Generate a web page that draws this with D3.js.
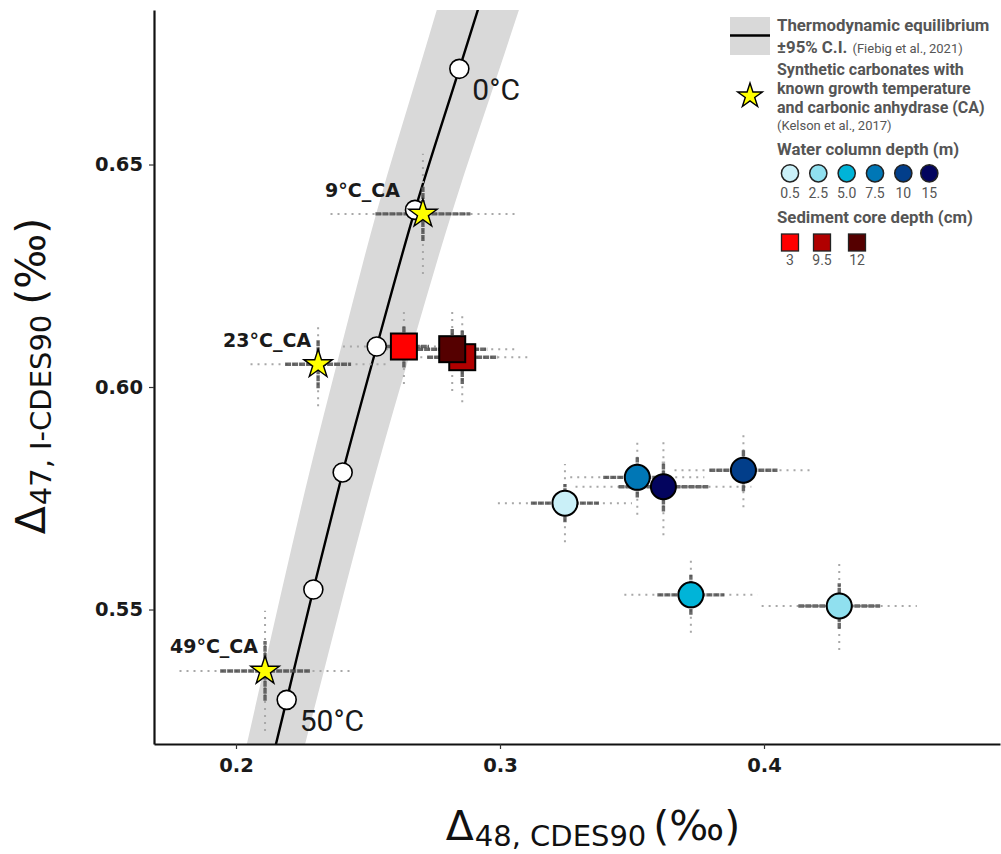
<!DOCTYPE html>
<html>
<head>
<meta charset="utf-8">
<script src="https://cdn.jsdelivr.net/npm/d3@7"></script>
<style>
  html, body { margin: 0; padding: 0; background: #fff; }
  svg { display: block; }
</style>
</head>
<body>
<div id="chart"></div>
<script>
// ---------------- DATA ----------------
// Thermodynamic equilibrium curve (Fiebig et al., 2021)
const eqD47 = [0.515, 0.5297, 0.5545, 0.5808, 0.6091, 0.6398, 0.6715, 0.690];
const eqD48 = [0.2132, 0.2192, 0.2293, 0.2404, 0.2533, 0.2678, 0.2846, 0.2944];
const eqBandHalf = [0.0109, 0.0113, 0.0119, 0.0126, 0.0134, 0.0143, 0.0152, 0.0157];

// temperature markers on the curve
const eqPointTemp = [0, 10, 20, 30, 40, 50];
const eqPointD48 = [0.2846, 0.2678, 0.2533, 0.2404, 0.2293, 0.2192];
const eqPointD47 = [0.6715, 0.6398, 0.6091, 0.5808, 0.5545, 0.5297];
const eqPointLabels = ["0°C", "", "", "", "", "50°C"];

// Synthetic carbonates with CA (Kelson et al., 2017)
const caLabels = ["9°C_CA", "23°C_CA", "49°C_CA"];
const caD48 = [0.2708, 0.2311, 0.2110];
const caD47 = [0.6389, 0.6051, 0.5362];
const caD48SE = [0.0180, 0.0125, 0.0170];
const caD48CI = [0.0350, 0.0256, 0.0324];
const caD47SE = [0.0061, 0.0054, 0.0067];
const caD47CI = [0.0135, 0.0094, 0.0135];

// Water column samples
const waterDepth = ["0.5", "2.5", "5.0", "7.5", "10", "15"];
const waterD48 = [0.3246, 0.4285, 0.3723, 0.3520, 0.3922, 0.3619];
const waterD47 = [0.5739, 0.5508, 0.5533, 0.5797, 0.5813, 0.5776];
const waterD48SE = [0.0129, 0.0155, 0.0127, 0.0129, 0.0129, 0.0170];
const waterD48CI = [0.0254, 0.0294, 0.0252, 0.0254, 0.0261, 0.0333];
const waterD47SE = [0.0043, 0.0051, 0.0045, 0.0045, 0.0047, 0.0056];
const waterD47CI = [0.0088, 0.0099, 0.0085, 0.0084, 0.0083, 0.0109];

// Sediment core samples
const sedDepth = ["3", "9.5", "12"];
const sedD48 = [0.2636, 0.2857, 0.2819];
const sedD47 = [0.6091, 0.6067, 0.6085];
const sedD48SE = [0.0095, 0.0133, 0.0133];
const sedD48CI = [0.0231, 0.0265, 0.0250];
const sedD47SE = [0.0047, 0.0060, 0.0047];
const sedD47CI = [0.0084, 0.0101, 0.0094];

// Axes
const xTicks = [0.2, 0.3, 0.4];
const xTickLabels = ["0.2", "0.3", "0.4"];
const yTicks = [0.55, 0.60, 0.65];
const yTickLabels = ["0.55", "0.60", "0.65"];

// ---------------- STYLE ----------------
const waterColors = ["#caf0f8", "#90e0ef", "#00b4d8", "#0077b6", "#023e8a", "#03045e"];
const sedColors = ["#ff0000", "#b00000", "#550000"];
const caLabelNudge = [[-23, -17], [-7, -17], [-7, -18]];
const legendGrey = "#555555";

const W = 1001, H = 854;
const pLeft = 154, pRight = 1000, pTop = 10, pBottom = 744;

const x = d3.scaleLinear().domain([0.16894, 0.48939]).range([pLeft, pRight]);
const y = d3.scaleLinear().domain([0.51978, 0.68472]).range([pBottom, pTop]);

const svg = d3.select("#chart").append("svg")
  .attr("width", W).attr("height", H)
  .attr("viewBox", `0 0 ${W} ${H}`);
svg.append("rect").attr("width", W).attr("height", H).attr("fill", "#ffffff");

svg.append("defs").append("clipPath").attr("id", "plotclip")
  .append("rect").attr("x", pLeft).attr("y", pTop)
  .attr("width", pRight - pLeft).attr("height", pBottom - pTop);

const plot = svg.append("g").attr("clip-path", "url(#plotclip)");

// ---- equilibrium band & line ----
const eqData = eqD47.map((v, i) => ({ d47: v, d48: eqD48[i], h: eqBandHalf[i] }));
const band = d3.area()
  .y(d => y(d.d47))
  .x0(d => x(d.d48 - d.h))
  .x1(d => x(d.d48 + d.h))
  .curve(d3.curveMonotoneY);
plot.append("path").datum(eqData).attr("d", band)
  .attr("fill", "#d9d9d9").attr("stroke", "none");

const line = d3.line()
  .y(d => y(d.d47))
  .x(d => x(d.d48))
  .curve(d3.curveMonotoneY);
plot.append("path").datum(eqData).attr("d", line)
  .attr("fill", "none").attr("stroke", "#000").attr("stroke-width", 2.4);

// ---- error bars ----
function errorBars(g, xs, ys, xse, xci, yse, yci) {
  xs.forEach((xv, i) => {
    const yv = ys[i];
    g.append("line").attr("x1", x(xv - xci[i])).attr("x2", x(xv + xci[i]))
      .attr("y1", y(yv)).attr("y2", y(yv))
      .attr("stroke", "#a8a8a8").attr("stroke-width", 2).attr("stroke-dasharray", "2,5");
    g.append("line").attr("x1", x(xv)).attr("x2", x(xv))
      .attr("y1", y(yv - yci[i])).attr("y2", y(yv + yci[i]))
      .attr("stroke", "#a8a8a8").attr("stroke-width", 2).attr("stroke-dasharray", "2,5");
  });
  xs.forEach((xv, i) => {
    const yv = ys[i];
    g.append("line").attr("x1", x(xv - xse[i])).attr("x2", x(xv + xse[i]))
      .attr("y1", y(yv)).attr("y2", y(yv))
      .attr("stroke", "#444").attr("stroke-opacity", 0.8).attr("stroke-width", 3.4)
      .attr("stroke-dasharray", "6,1");
    g.append("line").attr("x1", x(xv)).attr("x2", x(xv))
      .attr("y1", y(yv - yse[i])).attr("y2", y(yv + yse[i]))
      .attr("stroke", "#444").attr("stroke-opacity", 0.8).attr("stroke-width", 3.4)
      .attr("stroke-dasharray", "6,1");
  });
}
const eb = plot.append("g");
errorBars(eb, caD48, caD47, caD48SE, caD48CI, caD47SE, caD47CI);
errorBars(eb, waterD48, waterD47, waterD48SE, waterD48CI, waterD47SE, waterD47CI);
errorBars(eb, sedD48, sedD47, sedD48SE, sedD48CI, sedD47SE, sedD47CI);

// ---- equilibrium temperature points ----
plot.append("g").selectAll("circle").data(eqPointTemp).join("circle")
  .attr("cx", (d, i) => x(eqPointD48[i]))
  .attr("cy", (d, i) => y(eqPointD47[i]))
  .attr("r", 9.5)
  .attr("fill", "#fff").attr("stroke", "#000").attr("stroke-width", 1.6);

// ---- sediment squares ----
const sq = 26;
plot.append("g").selectAll("rect").data(sedDepth).join("rect")
  .attr("x", (d, i) => x(sedD48[i]) - sq / 2)
  .attr("y", (d, i) => y(sedD47[i]) - sq / 2)
  .attr("width", sq).attr("height", sq)
  .attr("fill", (d, i) => sedColors[i])
  .attr("stroke", "#000").attr("stroke-width", 2);

// ---- water circles ----
plot.append("g").selectAll("circle").data(waterDepth).join("circle")
  .attr("cx", (d, i) => x(waterD48[i]))
  .attr("cy", (d, i) => y(waterD47[i]))
  .attr("r", 12.5)
  .attr("fill", (d, i) => waterColors[i])
  .attr("stroke", "#000").attr("stroke-width", 2);

// ---- stars ----
const starPath = d3.symbol().type(d3.symbolStar).size(15 * 15 / 0.8908130915292852);
plot.append("g").selectAll("path").data(caLabels).join("path")
  .attr("d", starPath)
  .attr("transform", (d, i) => `translate(${x(caD48[i])},${y(caD47[i])})`)
  .attr("fill", "#ffff00").attr("stroke", "#000").attr("stroke-width", 1.4)
  .attr("stroke-linejoin", "miter");

// ---- labels ----
svg.append("g").selectAll("text").data(caLabels).join("text")
  .attr("x", (d, i) => x(caD48[i]) + caLabelNudge[i][0])
  .attr("y", (d, i) => y(caD47[i]) + caLabelNudge[i][1])
  .attr("text-anchor", "end")
  .attr("font-family", "DejaVu Sans").attr("font-weight", "bold")
  .attr("font-size", 19).attr("fill", "#1a1a1a")
  .text(d => d);

svg.append("g").selectAll("text").data(eqPointLabels).join("text")
  .attr("x", (d, i) => x(eqPointD48[i]) + 13)
  .attr("y", (d, i) => y(eqPointD47[i]) + 31)
  .attr("font-family", "Roboto").attr("font-size", 30).attr("fill", "#1a1a1a")
  .text(d => d);

// ---- axes ----
const xAxis = svg.append("g").attr("transform", `translate(0,${pBottom})`)
  .call(d3.axisBottom(x).tickValues(xTicks).tickFormat((d, i) => xTickLabels[i])
    .tickSize(5).tickSizeOuter(0).tickPadding(9));
const yAxis = svg.append("g").attr("transform", `translate(${pLeft},0)`)
  .call(d3.axisLeft(y).tickValues(yTicks).tickFormat((d, i) => yTickLabels[i])
    .tickSize(5).tickSizeOuter(0).tickPadding(6));
[xAxis, yAxis].forEach(a => {
  a.select(".domain").attr("stroke", "#111").attr("stroke-width", 2.2);
  a.selectAll(".tick line").attr("stroke", "#333").attr("stroke-width", 1.2);
  a.selectAll(".tick text").attr("font-family", "DejaVu Sans").attr("font-weight", "bold")
    .attr("font-size", 19.5).attr("fill", "#1a1a1a");
});

// ---- axis titles ----
const xt = svg.append("text").attr("x", 593).attr("y", 840)
  .attr("text-anchor", "middle").attr("font-family", "DejaVu Sans").attr("fill", "#111");
xt.append("tspan").attr("font-size", 41).text("Δ");
xt.append("tspan").attr("font-size", 29).attr("dy", 6).attr("dx", 1).text("48, CDES90");
xt.append("tspan").attr("font-size", 41).attr("dy", -6).attr("dx", 7).text("(‰)");

const yt = svg.append("text").attr("transform", "translate(45,376) rotate(-90)")
  .attr("text-anchor", "middle").attr("font-family", "DejaVu Sans").attr("fill", "#111");
yt.append("tspan").attr("font-size", 41).text("Δ");
yt.append("tspan").attr("font-size", 29).attr("dy", 6).attr("dx", 1).text("47, I-CDES90");
yt.append("tspan").attr("font-size", 41).attr("dy", -6).attr("dx", 10).text("(‰)");

// ---------------- LEGEND ----------------
const lg = svg.append("g");
lg.append("rect").attr("x", 730).attr("y", 17).attr("width", 40).attr("height", 38).attr("fill", "#d9d9d9");
lg.append("line").attr("x1", 730).attr("x2", 770).attr("y1", 35.5).attr("y2", 35.5)
  .attr("stroke", "#000").attr("stroke-width", 2.5);

const legendEqLines = ["Thermodynamic equilibrium", "±95% C.I."];
const legendEqRef = "(Fiebig et al., 2021)";
const legendCALines = ["Synthetic carbonates with", "known growth temperature", "and carbonic anhydrase (CA)"];
const legendCARef = "(Kelson et al., 2017)";
const legendWaterTitle = "Water column depth (m)";
const legendSedTitle = "Sediment core depth (cm)";

function ltext(txt, xx, yy, size, bold) {
  return lg.append("text").attr("x", xx).attr("y", yy)
    .attr("font-family", "Roboto").attr("font-size", size)
    .attr("font-weight", bold ? "bold" : "normal").attr("fill", legendGrey).text(txt);
}
ltext(legendEqLines[0], 777, 31, 16.8, true);
const l2 = ltext(legendEqLines[1], 777, 53, 16.8, true);
l2.append("tspan").attr("font-weight", "normal").attr("font-size", 13).attr("dx", 5).text(legendEqRef);

lg.append("path").attr("d", d3.symbol().type(d3.symbolStar).size(13 * 13 / 0.8908130915292852))
  .attr("transform", "translate(750,96)")
  .attr("fill", "#ffff00").attr("stroke", "#000").attr("stroke-width", 1.4);
legendCALines.forEach((t, i) => ltext(t, 777, 75.4 + i * 18.8, 16, true));
ltext(legendCARef, 777, 129.5, 13, false);

ltext(legendWaterTitle, 777, 155, 16.8, true);
const lwx = [790, 818.3, 846.7, 875, 903.3, 929.3];
waterDepth.forEach((d, i) => {
  lg.append("circle").attr("cx", lwx[i]).attr("cy", 173.3).attr("r", 8.6)
    .attr("fill", waterColors[i]).attr("stroke", "#222").attr("stroke-width", 1.5);
  lg.append("text").attr("x", lwx[i]).attr("y", 198).attr("text-anchor", "middle")
    .attr("font-family", "Roboto").attr("font-size", 14).attr("fill", legendGrey).text(d);
});

ltext(legendSedTitle, 777, 223, 16.8, true);
const lsx = [790, 822, 857];
sedDepth.forEach((d, i) => {
  lg.append("rect").attr("x", lsx[i] - 8.5).attr("y", 234).attr("width", 17).attr("height", 17)
    .attr("fill", sedColors[i]).attr("stroke", "#222").attr("stroke-width", 1.3);
  lg.append("text").attr("x", lsx[i]).attr("y", 265).attr("text-anchor", "middle")
    .attr("font-family", "Roboto").attr("font-size", 14).attr("fill", legendGrey).text(d);
});
</script>
</body>
</html>
